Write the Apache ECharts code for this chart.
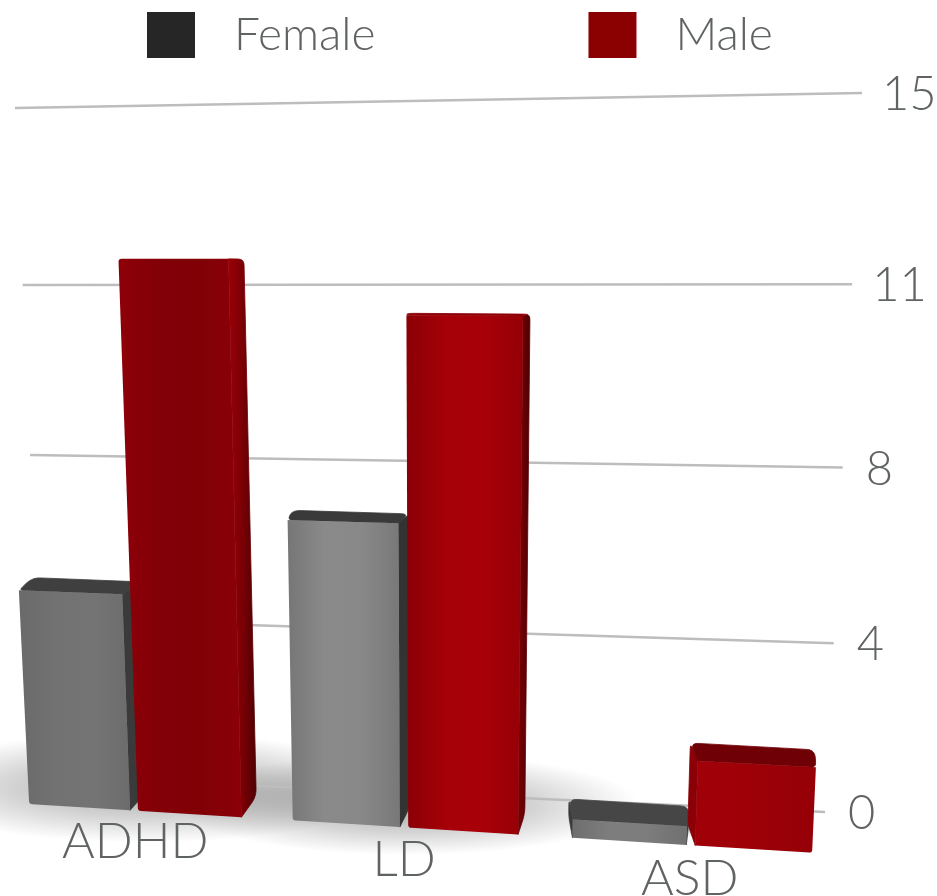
<!DOCTYPE html>
<html>
<head>
<meta charset="utf-8">
<style>html,body{margin:0;padding:0;background:#fff}#chart{width:937px;height:896px}</style>
<script src="https://cdn.jsdelivr.net/npm/echarts@6/dist/echarts.min.js"></script>
</head>
<body>
<div id="chart"></div>
<script>
// Chart data
const categories = ['ADHD', 'LD', 'ASD'];
const femaleValues = [4.8, 6.5, 0.4];
const maleValues = [11.8, 10.7, 1.8];
const yTicks = [0, 3.75, 7.5, 11.25, 15];
const yMax = 15;

// Scene planes of the tilted view, corners in order: low-left, low-right, high-right, high-left
const wallPlane = [[44, 776], [825, 812], [862, 93], [15, 108]];
const frontPlane = [[4.9, 802.5], [841, 854.6], [878, 83], [-31, 99]];
const rearPlane = [[21, 781.5], [832, 833.6], [868, 89.4], [-14, 105.4]];

// Bar width and the gap inside a pair, as fractions of a category band
const BAR = 0.39, GAP = 0.03;
// The rear outline of a bar flares slightly past its front face
const FLARE_LEFT = 2, FLARE_RIGHT = 6;

function homography(q) {
  const [[x0, y0], [x1, y1], [x2, y2], [x3, y3]] = q;
  const dx1 = x1 - x2, dx2 = x3 - x2, sx = x0 - x1 + x2 - x3;
  const dy1 = y1 - y2, dy2 = y3 - y2, sy = y0 - y1 + y2 - y3;
  const den = dx1 * dy2 - dx2 * dy1;
  const g = (sx * dy2 - dx2 * sy) / den, h = (dx1 * sy - sx * dy1) / den;
  const a = x1 - x0 + g * x1, b = x3 - x0 + h * x3;
  const d = y1 - y0 + g * y1, e = y3 - y0 + h * y3;
  return (s, t) => {
    const w = g * s + h * t + 1;
    return [(a * s + b * t + x0) / w, (d * s + e * t + y0) / w];
  };
}
const toWall = homography(wallPlane), toFront = homography(frontPlane), toRear = homography(rearPlane);

// Flat grid pixel -> unit coordinates on a plane
function unit(p, cs) {
  return [(p[0] - cs.x) / cs.width, (cs.y + cs.height - p[1]) / cs.height];
}

// Polygon whose corners are replaced by short sampled curves, one radius per corner
function rounded(pts, radii) {
  const out = [], n = pts.length;
  for (let i = 0; i < n; i++) {
    const p = pts[i], a = pts[(i + n - 1) % n], b = pts[(i + 1) % n], r = radii[i];
    if (!r) { out.push(p); continue; }
    const la = Math.hypot(a[0] - p[0], a[1] - p[1]) || 1, lb = Math.hypot(b[0] - p[0], b[1] - p[1]) || 1;
    const ra = Math.min(r, la / 2), rb = Math.min(r, lb / 2);
    const s = [p[0] + (a[0] - p[0]) * ra / la, p[1] + (a[1] - p[1]) * ra / la];
    const e = [p[0] + (b[0] - p[0]) * rb / lb, p[1] + (b[1] - p[1]) * rb / lb];
    for (let k = 0; k <= 5; k++) {
      const t = k / 5, u = 1 - t;
      out.push([u * u * s[0] + 2 * u * t * p[0] + t * t * e[0], u * u * s[1] + 2 * u * t * p[1] + t * t * e[1]]);
    }
  }
  return out;
}

const hGrad = (stops) => ({
  type: 'linear', x: 0, y: 0, x2: 1, y2: 0,
  colorStops: stops.map((c, i) => ({ offset: i / (stops.length - 1), color: c }))
});

// Face colours per category
const femaleFaces = [
  { front: ['#6a6a6a', '#727272', '#747474', '#6c6c6c'], top: '#3f3f3f', side: ['#3a3a3a', '#3a3a3a'] },
  { front: ['#767676', '#8a8a8a', '#888888', '#787878'], top: '#3a3a3a', side: ['#333333', '#333333'] },
  { front: ['#6e6e6e', '#7e7e7e', '#7c7c7c', '#707070'], top: '#464646', side: ['#3c3c3c', '#3c3c3c'] }
];
const maleFaces = [
  { front: ['#8e0008', '#820007', '#800006', '#8c0008'], top: '#6d0005', side: ['#9a0007', '#7a0005', '#4e0003'] },
  { front: ['#8a0006', '#a60008', '#a80008', '#940006'], top: '#8c0006', side: ['#7a0005', '#500003'] },
  { front: ['#a00008', '#a00008', '#9a0007', '#960007'], top: '#6e0006', side: ['#8a0006', '#7a0006'] }
];

function barItem(sign, faces) {
  return function (params, api) {
    const cat = api.value(0), val = api.value(1);
    const cs = params.coordSys, band = api.size([1, 0])[0];
    const base = api.coord([cat, 0]), head = api.coord([cat, val]);
    const inner = base[0] + sign * (GAP / 2) * band, outer = base[0] + sign * (GAP / 2 + BAR) * band;
    const xL = Math.min(inner, outer), xR = Math.max(inner, outer);
    const pick = (fn, x, y) => { const u = unit([x, y], cs); return fn(u[0], u[1]); };
    const fBL = pick(toFront, xL, base[1]), fBR = pick(toFront, xR, base[1]);
    const fTL = pick(toFront, xL, head[1]), fTR = pick(toFront, xR, head[1]);
    const rBL = pick(toRear, xL - FLARE_LEFT, base[1]), rBR = pick(toRear, xR + FLARE_RIGHT, base[1]);
    const rTL = pick(toRear, xL - FLARE_LEFT, head[1]), rTR = pick(toRear, xR + FLARE_RIGHT, head[1]);
    const f = faces[cat], kids = [];
    // Faces behind the front get a hairline of their own colour so no seam shows between them
    const poly = (pts, fill, radii, seam) => kids.push({
      type: 'polygon', shape: { points: rounded(pts, radii) },
      style: seam ? { fill, stroke: fill, lineWidth: 0.8 } : { fill, stroke: null }
    });
    const hasRight = rBR[0] > fBR[0], hasLeft = rBL[0] < fBL[0], hasTop = rTL[1] < fTL[1];
    if (hasRight) poly([fTR, rTR, rBR, fBR], hGrad(f.side), [0, 6, 8, 0], true);
    if (hasLeft) poly([rTL, fTL, fBL, rBL], f.side[0], [6, 0, 0, 6], true);
    if (hasTop) poly([fTL, fTR, rTR, rTL], f.top, [hasLeft ? 0 : 5, hasRight ? 0 : 5, 8, 8], true);
    const c = 3;
    poly([fTL, fTR, fBR, fBL], hGrad(f.front), [hasTop || hasLeft ? 0 : c, hasTop || hasRight ? 0 : c, hasRight ? 0 : c, hasLeft ? 0 : c], false);
    return { type: 'group', children: kids };
  };
}

// Soft shadows on the floor around each pair of bars
function floorItem(params, api) {
  const cat = api.value(0), val = api.value(1), cs = params.coordSys;
  const u = unit(api.coord([cat, 0]), cs), p = toRear(u[0], u[1]);
  const k = val / yMax;
  return {
    type: 'circle', shape: { cx: 0, cy: 0, r: 1 },
    x: p[0], y: p[1] - 2, scaleX: 240 * k + 60, scaleY: 60 * k + 8,
    style: {
      fill: {
        type: 'radial', x: 0.5, y: 0.5, r: 0.5,
        colorStops: [{ offset: 0, color: 'rgba(0,0,0,0.34)' }, { offset: 0.55, color: 'rgba(0,0,0,0.17)' }, { offset: 1, color: 'rgba(0,0,0,0)' }]
      }
    }
  };
}

// Wall rules and their tick labels, projected from the value axis
function wallItem(params, api) {
  const tick = api.value(1), cs = params.coordSys;
  const t = unit(api.coord([0, tick]), cs)[1];
  const a = toWall(0, t), b = toWall(1, t);
  const label = String(Math.round(tick));
  return {
    type: 'group',
    children: [
      { type: 'line', shape: { x1: a[0], y1: a[1], x2: b[0], y2: b[1] }, style: { stroke: '#bdbdbd', lineWidth: 2.5 } },
      { type: 'text', style: { text: label, x: b[0] + (label.length > 1 ? 20 : 23), y: b[1] + 2, fill: '#5f6362', font: '300 47px Lato', textAlign: 'left', textVerticalAlign: 'middle' } }
    ]
  };
}

function categoryLabel(params, api) {
  const cat = api.value(0), cs = params.coordSys;
  const u = unit(api.coord([cat, -0.72]), cs), p = toFront(u[0], u[1]);
  return { type: 'text', style: { text: categories[cat], x: p[0], y: p[1], fill: '#5f6362', font: '300 50px Lato', textAlign: 'center', textVerticalAlign: 'middle' } };
}

const chart = echarts.init(document.getElementById('chart'));
chart.setOption({
  animation: false,
  backgroundColor: '#ffffff',
  grid: { left: 100, right: 100, top: 100, bottom: 100 },
  xAxis: { type: 'category', data: categories, show: false },
  yAxis: { type: 'value', min: 0, max: yMax, interval: 3.75, show: false },
  legend: {
    data: ['Female', 'Male'],
    left: 147, top: 12, padding: 0, itemWidth: 48, itemHeight: 46, itemGap: 213, icon: 'rect',
    selectedMode: false,
    textStyle: { fontFamily: 'Lato', fontWeight: 300, fontSize: 46, color: '#5f6362', padding: [0, 0, 0, 34] }
  },
  series: [
    { name: 'floor', type: 'custom', silent: true, z: 1, data: categories.map((c, i) => [i, Math.max(femaleValues[i], maleValues[i])]), renderItem: floorItem },
    { name: 'wall', type: 'custom', silent: true, z: 2, data: yTicks.map(t => [0, t]), renderItem: wallItem },
    { name: 'labels', type: 'custom', silent: true, z: 2, data: categories.map((c, i) => [i, 0]), renderItem: categoryLabel },
    { name: 'Female', type: 'custom', z: 3, itemStyle: { color: '#262626' }, data: femaleValues.map((v, i) => [i, v]), renderItem: barItem(-1, femaleFaces) },
    { name: 'Male', type: 'custom', z: 4, itemStyle: { color: '#8b0000' }, data: maleValues.map((v, i) => [i, v]), renderItem: barItem(1, maleFaces) }
  ]
});
</script>
</body>
</html>
